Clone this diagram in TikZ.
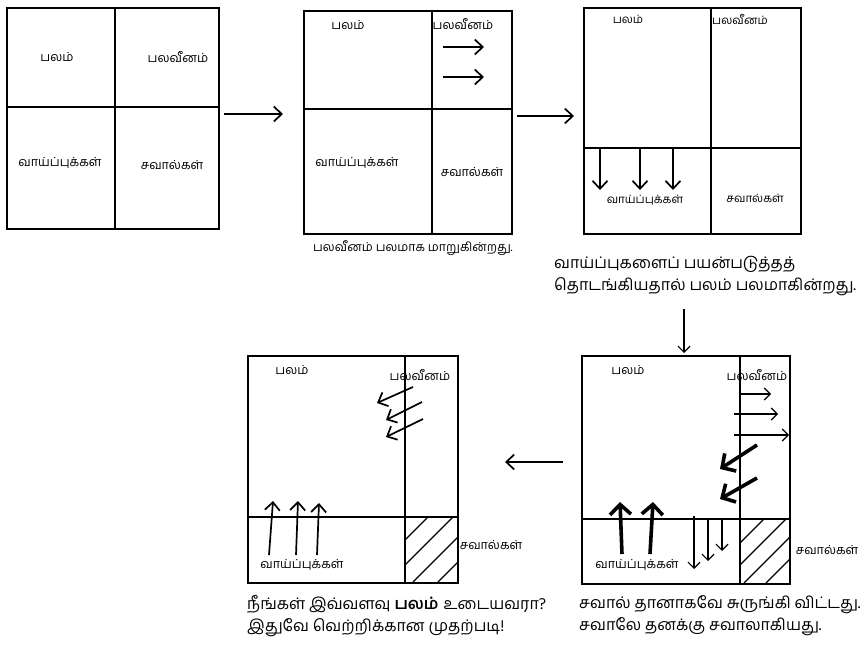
\documentclass[tikz,border=0pt]{standalone}
\usepackage{fontspec}
\setmainfont[Script=Tamil]{Hind Madurai}
\usetikzlibrary{arrows.meta}
\tikzset{
  frame/.style={draw, line width=1.5pt, inner sep=0pt, anchor=north west},
  div/.style={line width=1.3pt},
  flow/.style={line width=1.7pt, -{Straight Barb[length=8pt,width=15pt,line width=1.7pt]}},
  thinflow/.style={line width=1.2pt, -{Straight Barb[length=6pt,width=12pt,line width=1.2pt]}},
  boldflow/.style={line width=3.6pt, -{Straight Barb[length=10pt,width=21pt,line width=3.6pt]}},
  lab/.style={font=\fontsize{12.5}{14}\selectfont, inner sep=1pt},
  labsmall/.style={font=\fontsize{11.5}{13}\selectfont, inner sep=1pt},
  capsmall/.style={font=\fontsize{12.3}{14}\selectfont, inner sep=0pt},
  captext/.style={font=\fontsize{16}{22}\selectfont, align=left, anchor=west, inner sep=0pt},
  hatch/.style={line width=1.2pt}
}
\begin{document}
\begin{tikzpicture}[x=1pt,y=-1pt]
\useasboundingbox[fill=white] (0,0) rectangle (863,653);

% ---------- box 1 ----------
\node[frame, minimum width=212pt, minimum height=221pt] (b1) at (6,7) {};
\draw[div] (115,7) -- (115,228);
\draw[div] (6,107) -- (218,107);
\node[lab] (b1s) at (57,57) {பலம்};
\node[lab] (b1w) at (178,57) {பலவீனம்};
\node[lab] (b1o) at (60,163) {வாய்ப்புக்கள்};
\node[lab] (b1t) at (172,165) {சவால்கள்};

% ---------- box 2 ----------
\node[frame, minimum width=208pt, minimum height=223pt] (b2) at (303,10) {};
\draw[div] (432,10) -- (432,233);
\draw[div] (303,109) -- (511,109);
\node[lab] (b2s) at (348,25) {பலம்};
\node[lab] (b2w) at (463,24) {பலவீனம்};
\node[lab] (b2o) at (357,163) {வாய்ப்புக்கள்};
\node[lab] (b2t) at (472,172) {சவால்கள்};
\coordinate (b2r1s) at (443,47); \coordinate (b2r1e) at (484,47);
\coordinate (b2r2s) at (443,77); \coordinate (b2r2e) at (484,77);
\draw[flow] (b2r1s) -- (b2r1e);
\draw[flow] (b2r2s) -- (b2r2e);
\node[capsmall] (c2) at (413,248) {பலவீனம் பலமாக மாறுகின்றது.};

% ---------- box 3 ----------
\node[frame, minimum width=217pt, minimum height=226pt] (b3) at (583,7) {};
\draw[div] (711,7) -- (711,233);
\draw[div] (583,148) -- (800,148);
\node[labsmall] (b3s) at (628,19) {பலம்};
\node[labsmall] (b3w) at (740,19) {பலவீனம்};
\node[labsmall] (b3o) at (645,200) {வாய்ப்புக்கள்};
\node[labsmall] (b3t) at (755,198) {சவால்கள்};
\foreach \x [count=\i] in {600,640,673}{
  \coordinate (b3d\i s) at (\x,149);
  \coordinate (b3d\i e) at (\x,190);
  \draw[flow] (b3d\i s) -- (b3d\i e);
}
\node[captext] (c3) at (554,276) {வாய்ப்புகளைப் பயன்படுத்தத்\\தொடங்கியதால் பலம் பலமாகின்றது.};

% ---------- box 4 ----------
\node[frame, minimum width=208pt, minimum height=228pt] (b4) at (581,355) {};
\draw[div] (740,355) -- (740,583);
\draw[div] (581,519) -- (789,519);
\begin{scope}
  \clip (740,519) rectangle (789,583);
  \foreach \c in {1283,1305,1327,1349}{
    \draw[hatch] (\c-583,583) -- (\c-519,519);
  }
\end{scope}
\node[lab] (b4s) at (628,370) {பலம்};
\node[lab] (b4w) at (757,375) {பலவீனம்};
\node[lab] (b4o) at (637,565) {வாய்ப்புக்கள்};
\node[lab] (b4t) at (827,550) {சவால்கள்};
\coordinate (b4r1s) at (741,394); \coordinate (b4r1e) at (771,394);
\coordinate (b4r2s) at (734,414); \coordinate (b4r2e) at (778,414);
\coordinate (b4r3s) at (734,435); \coordinate (b4r3e) at (789,435);
\draw[thinflow] (b4r1s) -- (b4r1e);
\draw[thinflow] (b4r2s) -- (b4r2e);
\draw[thinflow] (b4r3s) -- (b4r3e);
\coordinate (b4k1s) at (757,445); \coordinate (b4k1e) at (720,469);
\coordinate (b4k2s) at (757,478); \coordinate (b4k2e) at (720,499);
\draw[boldflow] (b4k1s) -- (b4k1e);
\draw[boldflow] (b4k2s) -- (b4k2e);
\coordinate (b4u1s) at (622,554); \coordinate (b4u1e) at (620,502);
\coordinate (b4u2s) at (650,554); \coordinate (b4u2e) at (653,502);
\draw[boldflow] (b4u1s) -- (b4u1e);
\draw[boldflow] (b4u2s) -- (b4u2e);
\coordinate (b4d1s) at (694,516); \coordinate (b4d1e) at (694,569);
\coordinate (b4d2s) at (708,519); \coordinate (b4d2e) at (708,561);
\coordinate (b4d3s) at (722,519); \coordinate (b4d3e) at (722,551);
\draw[thinflow] (b4d1s) -- (b4d1e);
\draw[thinflow] (b4d2s) -- (b4d2e);
\draw[thinflow] (b4d3s) -- (b4d3e);
\node[captext] (c4) at (579,616) {சவால் தானாகவே சுருங்கி விட்டது.\\சவாலே தனக்கு சவாலாகியது.};

% ---------- box 5 ----------
\node[frame, minimum width=210pt, minimum height=227pt] (b5) at (247,355) {};
\draw[div] (405,355) -- (405,582);
\draw[div] (247,517) -- (457,517);
\begin{scope}
  \clip (405,517) rectangle (457,582);
  \foreach \c in {945,970,995,1020}{
    \draw[hatch] (\c-582,582) -- (\c-517,517);
  }
\end{scope}
\node[lab] (b5s) at (292,370) {பலம்};
\node[lab] (b5w) at (420,375) {பலவீனம்};
\node[lab] (b5o) at (302,565) {வாய்ப்புக்கள்};
\node[lab] (b5t) at (491,545) {சவால்கள்};
\coordinate (b5l1s) at (413,387); \coordinate (b5l1e) at (377,403);
\coordinate (b5l2s) at (422,402); \coordinate (b5l2e) at (386,420);
\coordinate (b5l3s) at (423,419); \coordinate (b5l3e) at (386,437);
\draw[flow] (b5l1s) -- (b5l1e);
\draw[flow] (b5l2s) -- (b5l2e);
\draw[flow] (b5l3s) -- (b5l3e);
\coordinate (b5u1s) at (269,555); \coordinate (b5u1e) at (273,501);
\coordinate (b5u2s) at (296,555); \coordinate (b5u2e) at (298,501);
\coordinate (b5u3s) at (317,555); \coordinate (b5u3e) at (319,503);
\draw[flow] (b5u1s) -- (b5u1e);
\draw[flow] (b5u2s) -- (b5u2e);
\draw[flow] (b5u3s) -- (b5u3e);
\node[captext] (c5) at (247,616) {நீங்கள் இவ்வளவு \textbf{பலம்} உடையவரா?\\இதுவே வெற்றிக்கான முதற்படி!};

% ---------- connectors between stages ----------
\coordinate (a1s) at (224,114); \coordinate (a1e) at (283,114);
\coordinate (a2s) at (517,116); \coordinate (a2e) at (574,116);
\coordinate (a3s) at (684,309); \coordinate (a3e) at (684,353);
\coordinate (a4s) at (563,462); \coordinate (a4e) at (505,462);
\draw[flow] (a1s) -- (a1e);
\draw[flow] (a2s) -- (a2e);
\draw[thinflow] (a3s) -- (a3e);
\draw[flow] (a4s) -- (a4e);
\end{tikzpicture}
\end{document}
